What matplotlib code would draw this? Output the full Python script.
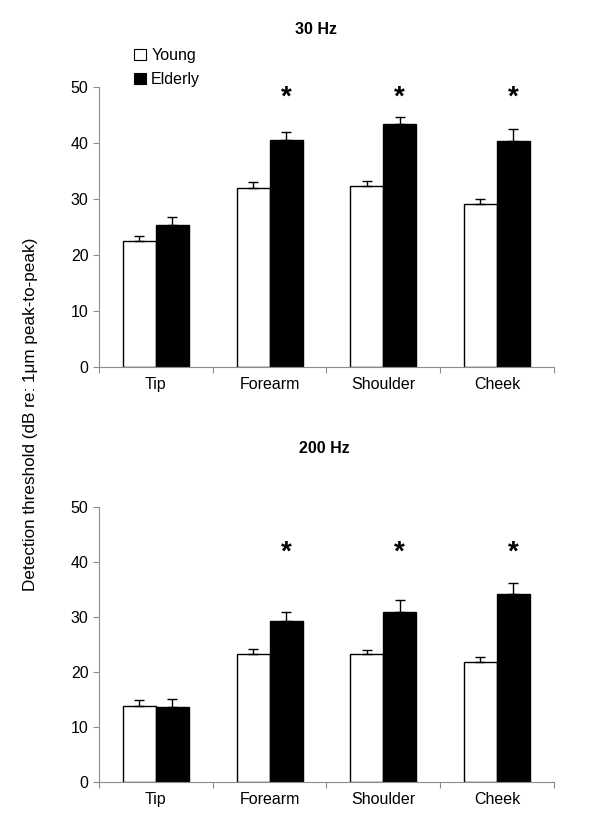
import numpy as np
import matplotlib
matplotlib.use("Agg")
import matplotlib.pyplot as plt
from matplotlib.patches import Patch

plt.rcParams['font.family'] = ['Liberation Sans', 'DejaVu Sans']

# データ
sites = ["Tip", "Forearm", "Shoulder", "Cheek"]
young_30 = [22.6, 32.0, 32.4, 29.2]
young_30_err = [0.9, 1.1, 0.9, 0.9]
elderly_30 = [25.4, 40.6, 43.4, 40.5]
elderly_30_err = [1.4, 1.4, 1.4, 2.0]
young_200 = [13.9, 23.3, 23.4, 21.9]
young_200_err = [1.1, 0.9, 0.7, 0.9]
elderly_200 = [13.6, 29.3, 31.0, 34.2]
elderly_200_err = [1.6, 1.6, 2.1, 2.0]
sig_30 = [False, True, True, True]
sig_200 = [False, True, True, True]
titles = ["30 Hz", "200 Hz"]

GRAY = "#8c8c8c"
W = 0.29
FS = 11.5

fig = plt.figure(figsize=(6, 8.25), dpi=100)
ax1 = fig.add_axes([0.165, 0.555, 0.758, 0.339])
ax2 = fig.add_axes([0.165, 0.052, 0.758, 0.333])

def draw_panel(ax, young, young_err, elderly, elderly_err, sig, star_y):
    x = np.arange(len(sites))
    ax.bar(x - W / 2, young, W, color="white", edgecolor="black", linewidth=1.0,
           yerr=[np.zeros(len(young)), young_err], capsize=3.5,
           error_kw=dict(ecolor="black", elinewidth=1.0, capthick=1.0))
    ax.bar(x + W / 2, elderly, W, color="black", edgecolor="black", linewidth=1.0,
           yerr=[np.zeros(len(elderly)), elderly_err], capsize=3.5,
           error_kw=dict(ecolor="black", elinewidth=1.0, capthick=1.0))
    for i, s in enumerate(sig):
        if s:
            ax.text(x[i] + W / 2, star_y, "*", ha="center", va="center",
                    fontsize=20, fontweight="bold")
    ax.set_xlim(-0.5, 3.5)
    ax.set_ylim(0, 50)
    ax.set_yticks([0, 10, 20, 30, 40, 50])
    ax.set_xticks(np.arange(-0.5, 4, 1))
    ax.set_xticklabels([])
    ax.set_xticks(x, minor=True)
    ax.set_xticklabels(sites, minor=True)
    ax.tick_params(axis="x", which="minor", length=0, pad=7, labelsize=FS)
    ax.tick_params(axis="x", which="major", length=4, color=GRAY, direction="out")
    ax.tick_params(axis="y", length=4, color=GRAY, direction="out", labelsize=FS)
    for side in ["top", "right"]:
        ax.spines[side].set_visible(False)
    for side in ["left", "bottom"]:
        ax.spines[side].set_color(GRAY)
        ax.spines[side].set_linewidth(0.8)

draw_panel(ax1, young_30, young_30_err, elderly_30, elderly_30_err, sig_30, 48.1)
draw_panel(ax2, young_200, young_200_err, elderly_200, elderly_200_err, sig_200, 41.7)

fig.text(316 / 600, 1 - 29 / 825, titles[0], ha="center", va="center",
         fontsize=FS, fontweight="bold")
fig.text(324 / 600, 1 - 448 / 825, titles[1], ha="center", va="center",
         fontsize=FS, fontweight="bold")

handles = [Patch(facecolor="white", edgecolor="black", linewidth=0.8, label="Young"),
           Patch(facecolor="black", edgecolor="black", linewidth=0.8, label="Elderly")]
fig.legend(handles=handles, loc="upper left", bbox_to_anchor=(0.2, 0.959),
           frameon=False, handlelength=0.7, handleheight=0.7, handletextpad=0.35,
           labelspacing=0.55, fontsize=FS)

fig.text(31 / 600, 1 - 414 / 825, "Detection threshold (dB re: 1\u03bcm peak-to-peak)",
         rotation=90, ha="center", va="center", fontsize=12.3)

fig.savefig("out.png", dpi=100)
